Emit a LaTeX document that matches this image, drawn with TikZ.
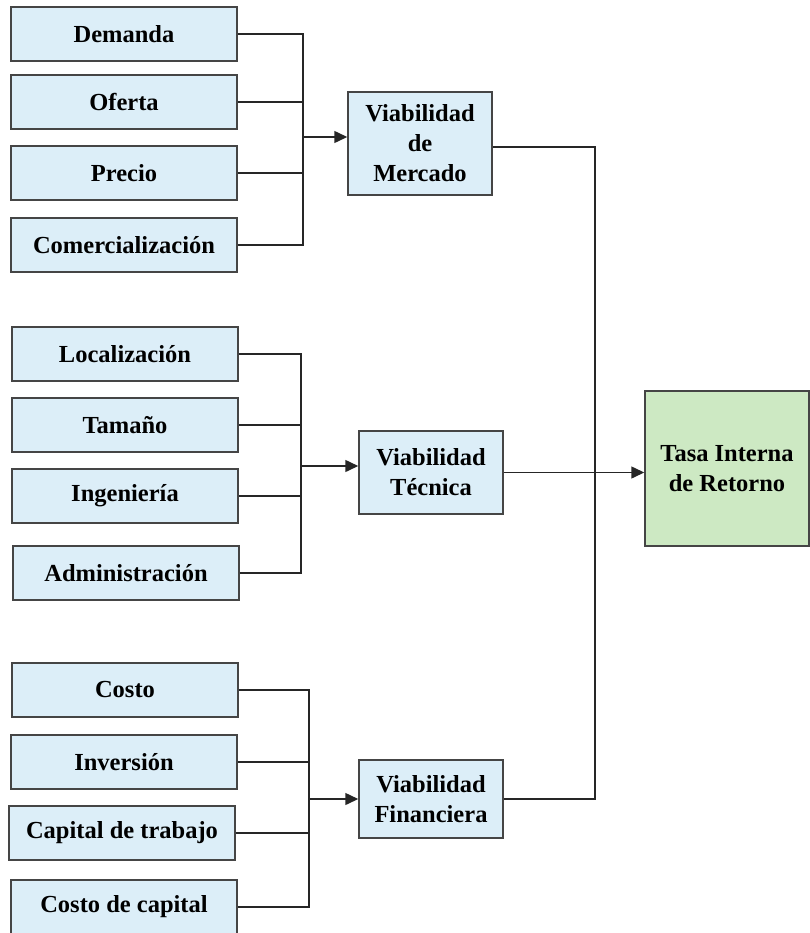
\documentclass[tikz,border=0pt]{standalone}
\usepackage{fontspec}
\setmainfont{Liberation Serif}
\usetikzlibrary{arrows.meta}

\definecolor{boxblue}{HTML}{DCEEF8}
\definecolor{boxgreen}{HTML}{CDE9C3}
\definecolor{edge}{HTML}{454545}

\begin{document}
\begin{tikzpicture}[
    x=1pt, y=-1pt,
    item/.style={draw=edge, fill=boxblue, line width=1.5pt, minimum width=226pt,
                 minimum height=54pt, font=\fontsize{24.5}{30}\selectfont\bfseries},
    viab/.style={draw=edge, fill=boxblue, line width=1.5pt, minimum width=144pt,
                 align=center, font=\fontsize{24.5}{30}\selectfont\bfseries},
    result/.style={draw=edge, fill=boxgreen, line width=1.5pt, minimum width=164pt,
                   minimum height=155pt, align=center,
                   font=\fontsize{24.5}{30}\selectfont\bfseries},
    link/.style={line width=1.5pt, draw=black!85},
    flow/.style={-{Triangle[length=13pt,width=12pt]}, line width=1.5pt, draw=black!85},
]
    \useasboundingbox (0,0) rectangle (810,933);

    % mercado
    \node[item] (dem) at (124,34) {Demanda};
    \node[item] (ofe) at (124,102) {Oferta};
    \node[item] (pre) at (124,173) {Precio};
    \node[item] (com) at (124,245) {Comercialización};
    \node[viab, minimum height=103pt] (merc) at (420,143.5) {Viabilidad\\de\\Mercado};
    \coordinate (jm) at (303,137);
    \draw[link] (dem.east) -| (jm);
    \draw[link] (ofe.east) -| (jm);
    \draw[link] (pre.east) -| (jm);
    \draw[link] (com.east) -| (jm);
    \draw[flow] (jm) -- (jm -| merc.west);

    % tecnica
    \node[item] (loc) at (125,354) {Localización};
    \node[item] (tam) at (125,425) {Tamaño};
    \node[item] (ing) at (125,496) {Ingeniería};
    \node[item] (adm) at (126,573) {Administración};
    \node[viab, minimum height=83pt] (tec) at (431,472.5) {Viabilidad\\Técnica};
    \coordinate (jt) at (301,466);
    \draw[link] (loc.east) -| (jt);
    \draw[link] (tam.east) -| (jt);
    \draw[link] (ing.east) -| (jt);
    \draw[link] (adm.east) -| (jt);
    \draw[flow] (jt) -- (jt -| tec.west);

    % financiera
    \node[item] (cos) at (125,690) {Costo};
    \node[item] (inv) at (124,762) {Inversión};
    \node[item] (cap) at (122,833) {Capital de trabajo};
    \node[item] (coc) at (124,907) {Costo de capital};
    \node[viab, minimum height=78pt] (fin) at (431,799) {Viabilidad\\Financiera};
    \coordinate (jf) at (309,799);
    \draw[link] (cos.east) -| (jf);
    \draw[link] (inv.east) -| (jf);
    \draw[link] (cap.east) -| (jf);
    \draw[link] (coc.east) -| (jf);
    \draw[flow] (jf) -- (fin.west);

    % resultado
    \node[result] (tir) at (727,468.5) {Tasa Interna\\de Retorno};
    \coordinate (bus) at (595,472.5);
    \draw[link] ([yshift=-3.5pt]merc.east) -| (bus);
    \draw[link] (fin.east) -| (bus);
    \draw[flow] (tec.east) -- (tir.west |- tec.east);

\end{tikzpicture}
\end{document}
